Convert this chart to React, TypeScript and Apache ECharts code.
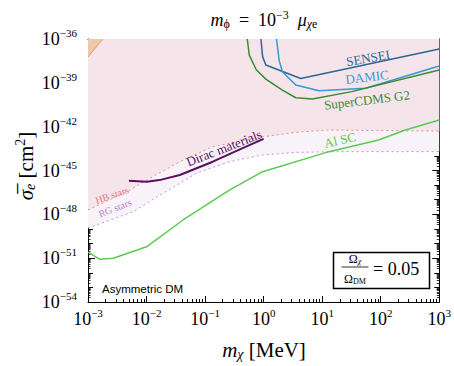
import React, { useEffect, useRef } from "react";
import * as echarts from "echarts";

// ---- axis ticks (exponents of 10) ----
const xTickExponents = [-3, -2, -1, 0, 1, 2, 3];
const yTickExponents = [-54, -51, -48, -45, -42, -39, -36];

// ---- data: dark-matter mass [MeV] vs cross section [cm^2] ----
const senseiMass = [0.9, 0.96, 1.09, 4.3, 28.6, 1000];
const senseiSigma = [1e-36, 6.2e-38, 1.66e-38, 2.0e-39, 1.0e-38, 2.1e-37];

const damicMass = [1.66, 1.84, 2.09, 3.54, 8.8, 55, 1000];
const damicSigma = [1e-36, 3.6e-38, 5.8e-39, 7.1e-40, 2.9e-40, 4.3e-40, 1.4e-38];

const cdmsMass = [0.526, 0.569, 0.748, 1.09, 2.09, 3.54, 6.8, 32, 1000];
const cdmsSigma = [1e-36, 7.9e-38, 7.9e-39, 1.8e-39, 3.2e-40, 9.5e-41, 7.9e-41, 2.5e-40, 7.6e-39];

const alscMass = [1e-3, 1.6e-3, 2.7e-3, 1e-2, 4.2e-2, 0.26, 0.96, 13.1, 92, 263, 1000];
const alscSigma = [2.6e-51, 8.3e-52, 9.8e-52, 6.0e-51, 4.1e-49, 4.6e-47, 8.3e-46, 1.95e-44, 1.23e-43, 5.9e-43, 2.9e-42];

const hbMass = [1e-3, 5.2e-3, 1e-2, 3.7e-2, 0.135, 0.96, 3.54, 12.2, 1000];
const hbSigma = [2.0e-48, 4.6e-47, 2.2e-46, 4.0e-45, 4.3e-44, 2.0e-43, 4.1e-43, 5.9e-43, 5.0e-43];

const rgMass = [1e-3, 5.9e-3, 1.9e-2, 7.1e-2, 0.26, 0.96, 3.54, 25, 1000];
const rgSigma = [1.15e-49, 1.5e-48, 2.75e-47, 6.5e-46, 4.0e-45, 1.15e-44, 1.74e-44, 1.95e-44, 1.95e-44];

const diracMass = [5.0e-3, 1e-2, 1.67e-2, 3.7e-2, 0.135, 0.5, 1.0];
const diracSigma = [2.0e-46, 1.7e-46, 2.2e-46, 4.9e-46, 4.0e-45, 4.3e-44, 1.45e-43];

const cornerMass = [1e-3, 1.8e-3];
const cornerSigma = [5.9e-38, 1e-36];

const SERIF = "Liberation Serif";

const toLog = (xs: number[], ys: number[]) =>
  xs.map((x, i) => [Math.log10(x), Math.log10(ys[i])]);

const minus = (v: number) => (v < 0 ? "\u2212" + Math.abs(v) : String(v));

function logMinor(from: number, to: number) {
  const out: number[] = [];
  for (let n = from; n < to; n++) {
    for (let k = 2; k <= 9; k++) out.push(n + Math.log10(k));
  }
  return out;
}

export default function App() {
  const ref = useRef<HTMLDivElement>(null);
  useEffect(() => {
    if (!ref.current) return;
    const chart = echarts.init(ref.current, undefined, { renderer: "svg" });

    const xMin = xTickExponents[0];
    const xMax = xTickExponents[xTickExponents.length - 1];
    const yMin = yTickExponents[0];
    const yMax = yTickExponents[yTickExponents.length - 1];
    const xMinor = logMinor(xMin, xMax);
    const yMinor = logMinor(yMin, yMax);
    const yDecades: number[] = [];
    for (let n = yMin; n <= yMax; n++) if (n % 3 !== 0) yDecades.push(n);

    const labelRich = {
      b: { fontSize: 18, fontFamily: SERIF, color: "#000" },
      s: { fontSize: 11, fontFamily: SERIF, color: "#000", padding: [0, 0, 12, 0] },
    };
    const fmt = (v: number) => "{b|10}{s|" + minus(Math.round(v)) + "}";

    const tickStyle = { color: "#000", width: 1 };
    const lineAxis = { show: true, onZero: false, lineStyle: { color: "#000", width: 1 } };
    const noLine = { show: false, onZero: false };
    const baseX = (position: string, extra: any) => ({
      type: "value",
      min: xMin,
      max: xMax,
      interval: 1,
      position,
      splitLine: { show: false },
      axisLine: noLine,
      axisLabel: { show: false },
      axisTick: { show: false },
      ...extra,
    });
    const baseY = (position: string, extra: any) => ({
      type: "value",
      min: yMin,
      max: yMax,
      interval: 3,
      position,
      splitLine: { show: false },
      axisLine: noLine,
      axisLabel: { show: false },
      axisTick: { show: false },
      ...extra,
    });

    const xAxis = [
      baseX("bottom", {
        axisLine: lineAxis,
        axisTick: { show: true, inside: true, length: 6, lineStyle: tickStyle },
        axisLabel: { show: true, formatter: fmt, rich: labelRich, margin: 5, fontFamily: SERIF },
      }),
      baseX("bottom", {
        axisTick: { show: true, inside: true, length: 3, customValues: xMinor, lineStyle: tickStyle },
      }),
      baseX("top", {
        axisLine: lineAxis,
        axisTick: { show: true, inside: true, length: 6, lineStyle: tickStyle },
      }),
      baseX("top", {
        axisTick: { show: true, inside: true, length: 3, customValues: xMinor, lineStyle: tickStyle },
      }),
    ];
    const yAxis = [
      baseY("left", {
        axisLine: lineAxis,
        axisTick: { show: true, inside: true, length: 7, lineStyle: tickStyle },
        axisLabel: { show: true, formatter: fmt, rich: labelRich, margin: 11, fontFamily: SERIF },
      }),
      baseY("left", {
        axisTick: { show: true, inside: true, length: 5, customValues: yDecades, lineStyle: tickStyle },
      }),
      baseY("left", {
        axisTick: { show: true, inside: true, length: 2.5, customValues: yMinor, lineStyle: { color: "#000", width: 0.8 } },
      }),
      baseY("right", {
        axisLine: lineAxis,
        axisTick: { show: true, inside: true, length: 7, lineStyle: tickStyle },
      }),
      baseY("right", {
        axisTick: { show: true, inside: true, length: 5, customValues: yDecades, lineStyle: tickStyle },
      }),
      baseY("right", {
        axisTick: { show: true, inside: true, length: 2.5, customValues: yMinor, lineStyle: { color: "#000", width: 0.8 } },
      }),
    ];

    const line = (name: string, data: number[][], color: string, width: number, extra: any = {}) => ({
      name,
      type: "line",
      data,
      showSymbol: false,
      symbol: "none",
      smooth: false,
      clip: true,
      lineStyle: { color, width },
      ...extra,
    });

    const series = [
      line("RG stars", toLog(rgMass, rgSigma), "#c890d8", 1, {
        lineStyle: { color: "#c890d8", width: 1, type: [2, 3] },
        areaStyle: { origin: "end", color: "#f8f3f8", opacity: 1 },
        z: 1,
      }),
      line("HB stars", toLog(hbMass, hbSigma), "#e88a8a", 1, {
        lineStyle: { color: "#e88a8a", width: 1, type: [2, 3] },
        areaStyle: { origin: "end", color: "#f5e5eb", opacity: 1 },
        z: 2,
      }),
      line("corner", toLog(cornerMass, cornerSigma), "#f0a040", 1, {
        areaStyle: { origin: "end", color: "#ecc9ab", opacity: 1 },
        z: 3,
      }),
      line("SENSEI", toLog(senseiMass, senseiSigma), "#2a6792", 1.5, { z: 5 }),
      line("DAMIC", toLog(damicMass, damicSigma), "#3499d4", 1.5, { z: 5 }),
      line("SuperCDMS G2", toLog(cdmsMass, cdmsSigma), "#3b8a30", 1.5, { z: 5 }),
      line("Al SC", toLog(alscMass, alscSigma), "#5cc954", 1.5, { z: 5 }),
      line("Dirac materials", toLog(diracMass, diracSigma), "#5a0f5e", 2, { z: 5 }),
    ];

    const lbl = (text: string, x: number, y: number, rot: number, color: string, size = 13) => ({
      type: "text",
      x,
      y,
      rotation: rot,
      z: 50,
      style: {
        text,
        fill: color,
        fontSize: size,
        fontFamily: SERIF,
        align: "center",
        verticalAlign: "middle",
      },
    });

    const graphic = [
      // title
      {
        type: "text",
        x: 264,
        y: 20,
        style: {
          text: "{i|m}{sb|\u03d5}{n|  =  10}{sp|\u22123}{n|  }{i|\u03bc}{sbi|\u03c7}{sb|e}",
          align: "center",
          verticalAlign: "middle",
          fontSize: 18,
          fontFamily: SERIF,
          rich: {
            i: { fontSize: 18, fontFamily: SERIF, fontStyle: "italic", fill: "#000" },
            n: { fontSize: 18, fontFamily: SERIF, fill: "#000" },
            sb: { fontSize: 12, fontFamily: SERIF, fill: "#000", padding: [8, 0, 0, 0] },
            sbi: { fontSize: 12, fontFamily: SERIF, fontStyle: "italic", fill: "#000", padding: [8, 0, 0, 0] },
            sp: { fontSize: 12, fontFamily: SERIF, fill: "#000", padding: [0, 0, 10, 0] },
          },
        },
      },
      // x axis name
      {
        type: "text",
        x: 264,
        y: 350,
        style: {
          text: "{i|m}{sb|\u03c7}{n| [MeV]}",
          align: "center",
          verticalAlign: "middle",
          fontSize: 21,
          fontFamily: SERIF,
          rich: {
            i: { fontSize: 21, fontFamily: SERIF, fontStyle: "italic", fill: "#000" },
            n: { fontSize: 21, fontFamily: SERIF, fill: "#000" },
            sb: { fontSize: 14, fontFamily: SERIF, fontStyle: "italic", fill: "#000", padding: [9, 0, 0, 0] },
          },
        },
      },
      // y axis name
      {
        type: "text",
        x: 26,
        y: 166,
        rotation: Math.PI / 2,
        style: {
          text: "{i|\u03c3\u0305}{sb|e}{n| [cm}{sp|2}{n|]}",
          align: "center",
          verticalAlign: "middle",
          fontSize: 21,
          fontFamily: SERIF,
          rich: {
            i: { fontSize: 21, fontFamily: SERIF, fontStyle: "italic", fill: "#000" },
            n: { fontSize: 21, fontFamily: SERIF, fill: "#000" },
            sb: { fontSize: 14, fontFamily: SERIF, fontStyle: "italic", fill: "#000", padding: [9, 0, 0, 0] },
            sp: { fontSize: 14, fontFamily: SERIF, fill: "#000", padding: [0, 0, 11, 0] },
          },
        },
      },
      lbl("SENSEI", 368, 58, 0.17, "#2a6792"),
      lbl("DAMIC", 367, 77, 0.12, "#3499d4"),
      lbl("SuperCDMS G2", 367, 100, 0.12, "#3b8a30"),
      lbl("Al SC", 340, 140, 0.22, "#5cc954"),
      lbl("Dirac materials", 224, 148, 0.37, "#5a0f5e"),
      lbl("HB stars", 112, 195, 0.33, "#e07a7a", 10),
      lbl("RG stars", 115, 208, 0.38, "#c080d0", 10),
      {
        type: "text",
        x: 102,
        y: 289,
        z: 50,
        style: {
          text: "Asymmetric DM",
          fill: "#000",
          fontSize: 11.5,
          fontFamily: "Liberation Sans",
          align: "left",
          verticalAlign: "middle",
        },
      },
      // box
      {
        type: "rect",
        z: 50,
        shape: { x: 333.5, y: 252.5, width: 96, height: 36 },
        style: { fill: "#fff", stroke: "#000", lineWidth: 1.5 },
      },
      {
        type: "text",
        x: 355,
        y: 259,
        z: 51,
        style: {
          text: "{n|\u03a9}{sb|\u03c7}",
          align: "center",
          verticalAlign: "middle",
          fontSize: 12,
          fontFamily: SERIF,
          rich: {
            n: { fontSize: 12, fontFamily: SERIF, fill: "#000" },
            sb: { fontSize: 8, fontFamily: SERIF, fontStyle: "italic", fill: "#000", padding: [5, 0, 0, 0] },
          },
        },
      },
      {
        type: "line",
        z: 51,
        shape: { x1: 341.5, y1: 267, x2: 368.5, y2: 267 },
        style: { stroke: "#000", lineWidth: 0.8 },
      },
      {
        type: "text",
        x: 355,
        y: 279,
        z: 51,
        style: {
          text: "{n|\u03a9}{sb|DM}",
          align: "center",
          verticalAlign: "middle",
          fontSize: 12,
          fontFamily: SERIF,
          rich: {
            n: { fontSize: 12, fontFamily: SERIF, fill: "#000" },
            sb: { fontSize: 8, fontFamily: SERIF, fill: "#000", padding: [5, 0, 0, 0] },
          },
        },
      },
      {
        type: "text",
        x: 373,
        y: 269,
        z: 51,
        style: {
          text: "= 0.05",
          fill: "#000",
          fontSize: 18,
          fontFamily: SERIF,
          align: "left",
          verticalAlign: "middle",
        },
      },
    ];

    chart.setOption({
      animation: false,
      backgroundColor: "#fff",
      textStyle: { fontFamily: SERIF },
      grid: { left: 88, right: 13, top: 39, bottom: 64, containLabel: false },
      xAxis,
      yAxis,
      series,
      graphic,
    });
    return () => chart.dispose();
  }, []);
  return <div ref={ref} style={{ width: 454, height: 366, position: "absolute", left: 0, top: 0 }} />;
}
